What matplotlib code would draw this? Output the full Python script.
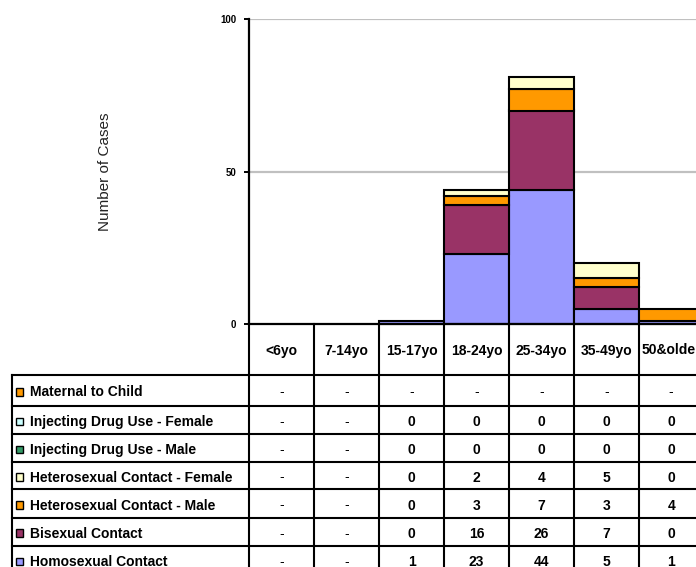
import numpy as np
import matplotlib
matplotlib.use("Agg")
import matplotlib.pyplot as plt
from matplotlib.patches import Rectangle

# ---- data -------------------------------------------------------------
age_groups = ["<6yo", "7-14yo", "15-17yo", "18-24yo", "25-34yo", "35-49yo", "50&older"]

homosexual = [None, None, 1, 23, 44, 5, 1]
bisexual = [None, None, 0, 16, 26, 7, 0]
hetero_male = [None, None, 0, 3, 7, 3, 4]
hetero_female = [None, None, 0, 2, 4, 5, 0]
idu_male = [None, None, 0, 0, 0, 0, 0]
idu_female = [None, None, 0, 0, 0, 0, 0]
maternal = [None, None, None, None, None, None, None]

# stacking order, bottom to top
series = [
    ("Homosexual Contact", homosexual, "#9999FF"),
    ("Bisexual Contact", bisexual, "#993366"),
    ("Heterosexual Contact - Male", hetero_male, "#FF9900"),
    ("Heterosexual Contact - Female", hetero_female, "#FFFFCC"),
    ("Injecting Drug Use - Male", idu_male, "#339966"),
    ("Injecting Drug Use - Female", idu_female, "#CCFFFF"),
    ("Maternal to Child", maternal, "#FF9900"),
]

y_ticks = [0, 50, 100]
y_label = "Number of Cases"

# ---- layout (pixels) --------------------------------------------------
W, H = 696, 567
DPI = 100
plot_left, plot_top, plot_bottom = 249.3, 19.0, 324.0
col_w = 64.9
row_edges = [324.0, 375.0, 406.0, 434.3, 461.7, 489.3, 517.7, 546.0, 574.0]
table_left = 11.5

plt.rcParams["font.family"] = ["Liberation Sans", "DejaVu Sans"]

fig = plt.figure(figsize=(W / DPI, H / DPI), dpi=DPI)
fig.patch.set_facecolor("white")

n = len(age_groups)
ax = fig.add_axes([plot_left / W, (H - plot_bottom) / H,
                   n * col_w / W, (plot_bottom - plot_top) / H])
ax.set_xlim(0, n)
ax.set_ylim(0, 100)

# gridlines
for t in y_ticks[1:]:
    ax.axhline(t, color="#C0C0C0", lw=1.6, zorder=0)

# stacked bars
bottoms = np.zeros(n)
for name, vals, color in series:
    v = np.array([0 if x is None else x for x in vals], dtype=float)
    idx = np.nonzero(v > 0)[0]
    if len(idx):
        ax.bar(idx, v[idx], width=1.0, bottom=bottoms[idx], align="edge",
               color=color, edgecolor="black", linewidth=1.5, zorder=2,
               clip_on=False)
    bottoms += v

for s in ("top", "right"):
    ax.spines[s].set_visible(False)
ax.spines["left"].set_linewidth(1.6)
ax.spines["bottom"].set_linewidth(1.6)
ax.spines["bottom"].set_zorder(3)
ax.set_xticks([])
ax.set_yticks(y_ticks)
ax.set_yticklabels([str(t) for t in y_ticks], fontsize=7, fontweight="bold")
ax.tick_params(axis="y", length=3.5, width=1.4, pad=6)
ax.set_ylabel(y_label, fontsize=11, labelpad=78, color="#222222")

# ---- data table -------------------------------------------------------
tab = fig.add_axes([0, 0, 1, 1])
tab.set_xlim(0, W)
tab.set_ylim(H, 0)
tab.axis("off")

def to_px(xd):
    disp = ax.transData.transform((xd, 0))
    return disp[0]

col_edges = [to_px(i) for i in range(n + 1)]

lw = 1.5
# horizontal lines
tab.plot([table_left, col_edges[-1]], [row_edges[1]] * 2, color="black", lw=lw)
for y in row_edges[2:]:
    tab.plot([table_left, col_edges[-1]], [y, y], color="black", lw=lw)
# vertical lines
for x in col_edges:
    tab.plot([x, x], [row_edges[0], row_edges[-1]], color="black", lw=lw)
tab.plot([table_left, table_left], [row_edges[1], row_edges[-1]], color="black", lw=lw)

fs = 10
# header row
for i, g in enumerate(age_groups):
    cx = (col_edges[i] + col_edges[i + 1]) / 2
    cy = (row_edges[0] + row_edges[1]) / 2 + 1
    tab.text(cx, cy, g, ha="center", va="center", fontsize=fs,
             fontweight="bold")

# body rows, top to bottom
for r, (name, vals, color) in enumerate(reversed(series)):
    y0, y1 = row_edges[r + 1], row_edges[r + 2]
    cy = (y0 + y1) / 2 + 2
    tab.add_patch(Rectangle((15.5, cy - 4.5), 7.5, 7.5, facecolor=color,
                            edgecolor="black", lw=1.0))
    tab.text(30, cy, name, ha="left", va="center", fontsize=fs,
             fontweight="bold")
    for i, v in enumerate(vals):
        cx = (col_edges[i] + col_edges[i + 1]) / 2
        if v is None:
            tab.text(cx, cy, "-", ha="center", va="center", fontsize=fs)
        else:
            tab.text(cx, cy, str(v), ha="center", va="center", fontsize=fs,
                     fontweight="bold")

fig.savefig("out.png", dpi=DPI)
